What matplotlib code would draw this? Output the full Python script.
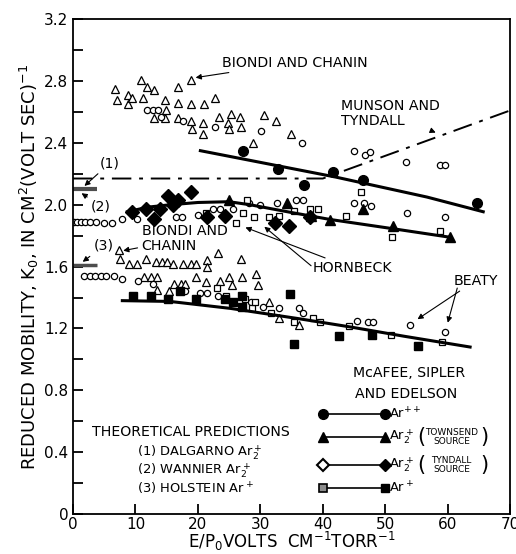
"""
Reduced mobility of argon ions vs E/P0 (replot of scanned figure).
"""

import matplotlib
matplotlib.use('Agg')
import matplotlib.pyplot as plt

# Biondi and Chanin, upper group (open triangles / open circles)
bc_tri_hi_x = [6.7, 7.05, 8.8, 8.8, 9.5, 10.9, 11.2, 11.9, 13.0, 13.0, 14.7, 14.9, 14.7, 16.8, 16.8, 16.8,
               18.9, 18.9, 18.9, 19.1, 21.0, 20.8, 20.8, 22.8, 23.4, 24.8, 25.3, 25.0, 26.8, 26.9, 28.8,
               30.6, 32.5, 34.9]
bc_tri_hi_y = [2.75, 2.68, 2.71, 2.65, 2.69, 2.81, 2.69, 2.76, 2.74, 2.56, 2.68, 2.61, 2.56, 2.76, 2.66, 2.56,
               2.81, 2.65, 2.54, 2.49, 2.65, 2.53, 2.46, 2.69, 2.57, 2.53, 2.59, 2.49, 2.57, 2.50, 2.40,
               2.58, 2.54, 2.46]
circ_hi_x = [11.9, 12.8, 13.6, 14.1, 17.6, 22.8, 30.1, 36.7, 45.0, 46.8, 47.6, 53.4, 58.8, 59.5]
circ_hi_y = [2.61, 2.61, 2.61, 2.57, 2.54, 2.50, 2.48, 2.40, 2.35, 2.32, 2.34, 2.28, 2.26, 2.26]

# middle group
circ_mid_x = [0.2, 0.6, 1.3, 1.9, 2.7, 3.7, 4.9, 6.2, 7.9, 10.3, 16.5, 17.5, 20.0, 22.4, 23.6, 25.6,
              28.2, 30.0, 32.7, 35.7, 36.9, 45.0, 46.6, 47.8, 53.5, 59.6]
circ_mid_y = [1.89, 1.89, 1.89, 1.89, 1.89, 1.89, 1.88, 1.88, 1.91, 1.91, 1.92, 1.92, 1.935, 1.97, 1.97, 1.97,
              2.01, 2.00, 2.01, 2.03, 2.03, 2.01, 2.01, 1.99, 1.95, 1.92]
hb_sq_mid_x = [21.3, 27.9, 27.2, 26.1, 29.0, 31.4, 33.0, 35.4, 38.0, 39.3, 43.8, 46.2, 51.1, 58.8]
hb_sq_mid_y = [1.95, 2.03, 1.95, 1.88, 1.92, 1.92, 1.93, 1.96, 1.97, 1.97, 1.93, 2.08, 1.79, 1.83]

# lower group
bc_tri_lo_x = [7.4, 7.5, 9.0, 10.3, 11.7, 13.3, 14.3, 15.1, 16.0, 17.6, 18.9, 19.7, 21.5, 21.5, 23.2,
               26.9, 11.4, 12.5, 13.5, 13.5, 15.4, 16.2, 17.3, 17.9, 19.7, 21.3, 23.6, 25.0, 25.5,
               27.1, 29.3, 29.6, 31.4, 33.0, 36.2]
bc_tri_lo_y = [1.71, 1.65, 1.62, 1.62, 1.65, 1.63, 1.63, 1.63, 1.62, 1.62, 1.62, 1.62, 1.645, 1.60, 1.685,
               1.65, 1.53, 1.53, 1.53, 1.45, 1.445, 1.49, 1.49, 1.49, 1.535, 1.50, 1.51, 1.535, 1.48,
               1.535, 1.55, 1.48, 1.37, 1.27, 1.22]
circ_lo_x = [1.7, 2.7, 3.6, 4.5, 5.3, 6.5, 7.9, 10.4, 12.8, 17.9, 20.4, 21.5, 23.2, 28.5, 30.4, 33.0,
             36.2, 36.9, 45.5, 47.3, 48.1, 54.0, 59.5]
circ_lo_y = [1.54, 1.54, 1.54, 1.54, 1.54, 1.54, 1.52, 1.51, 1.49, 1.445, 1.43, 1.43, 1.41, 1.37, 1.34, 1.335,
             1.33, 1.30, 1.25, 1.245, 1.24, 1.22, 1.18]
hb_sq_lo_x = [23.1, 24.5, 27.6, 28.7, 29.2, 31.7, 35.4, 38.4, 39.5, 44.2, 51.0, 59.1]
hb_sq_lo_y = [1.46, 1.41, 1.39, 1.33, 1.37, 1.30, 1.245, 1.265, 1.24, 1.215, 1.155, 1.11]

# McAfee, Sipler and Edelson
arpp_x = [27.2, 32.9, 37.0, 41.7, 46.5, 64.7]
arpp_y = [2.35, 2.23, 2.13, 2.21, 2.16, 2.01]
ar2_town_x = [25.0, 34.3, 38.1, 41.2, 46.4, 51.3, 60.3]
ar2_town_y = [2.03, 2.01, 1.93, 1.90, 1.97, 1.86, 1.79]
ar2_tynd_x = [9.4, 11.7, 13.0, 13.9, 15.2, 16.0, 16.8, 18.9, 21.5, 24.4, 32.4, 34.6, 38.0]
ar2_tynd_y = [1.955, 1.97, 1.91, 1.97, 2.06, 2.00, 2.03, 2.08, 1.92, 1.93, 1.88, 1.86, 1.92]
arp_x = [9.6, 12.5, 15.2, 17.1, 19.7, 24.4, 25.6, 27.1, 27.1, 34.8, 35.4, 42.6, 47.9, 55.3]
arp_y = [1.41, 1.41, 1.39, 1.445, 1.39, 1.39, 1.37, 1.41, 1.34, 1.42, 1.10, 1.15, 1.155, 1.085]

# smooth curves drawn through the data
curve_arpp_x = [20.4, 42.0, 56.7, 65.7]
curve_arpp_y = [2.35, 2.18, 2.05, 1.955]
curve_ar2_x = [8.7, 12.0, 15.5, 20.0, 25.0, 28.4, 35.0, 41.2, 51.3, 60.4]
curve_ar2_y = [1.955, 1.985, 2.0, 2.015, 2.02, 2.0, 1.95, 1.905, 1.845, 1.79]
curve_arp_x = [7.9, 15.5, 25.2, 35.9, 44.4, 53.0, 63.6]
curve_arp_y = [1.38, 1.375, 1.33, 1.265, 1.21, 1.15, 1.08]
munson_x = [0, 40, 70]
munson_y = [2.17, 2.17, 2.61]

# theoretical predictions
theory_dalgarno = 2.10
theory_holstein = 1.61

plt.rcParams['font.family'] = 'DejaVu Sans'
fig = plt.figure(figsize=(5.16, 5.54), dpi=100)
ax = fig.add_axes([0.1415, 0.0722, 0.847, 0.893])

k = 'black'
open_kw = dict(linestyle='none', mfc='white', mec=k, mew=0.9)
fill_kw = dict(linestyle='none', color=k)

ax.plot(bc_tri_hi_x, bc_tri_hi_y, '^', ms=5.3, **open_kw)
ax.plot(circ_hi_x, circ_hi_y, 'o', ms=4.5, **open_kw)
ax.plot(circ_mid_x, circ_mid_y, 'o', ms=4.5, **open_kw)
ax.plot(hb_sq_mid_x, hb_sq_mid_y, 's', ms=4.3, **open_kw)
ax.plot(bc_tri_lo_x, bc_tri_lo_y, '^', ms=5.3, **open_kw)
ax.plot(circ_lo_x, circ_lo_y, 'o', ms=4.5, **open_kw)
ax.plot(hb_sq_lo_x, hb_sq_lo_y, 's', ms=4.3, **open_kw)

ax.plot(curve_arpp_x, curve_arpp_y, '-', color=k, lw=2.2)
ax.plot(curve_ar2_x, curve_ar2_y, '-', color=k, lw=2.2)
ax.plot(curve_arp_x, curve_arp_y, '-', color=k, lw=2.2)
ax.plot(munson_x, munson_y, color=k, lw=1.4, dashes=(10, 4, 2, 4))

ax.plot(arpp_x, arpp_y, 'o', ms=7, **fill_kw)
ax.plot(ar2_town_x, ar2_town_y, '^', ms=7.5, **fill_kw)
ax.plot(ar2_tynd_x, ar2_tynd_y, 'D', ms=7, **fill_kw)
ax.plot(arp_x, arp_y, 's', ms=6, **fill_kw)

# theoretical marks at the left axis
ax.plot([0, 3.8], [theory_dalgarno, theory_dalgarno], color='0.3', lw=3, solid_capstyle='butt')
ax.plot([0, 3.8], [theory_holstein, theory_holstein], color='0.3', lw=2.5, solid_capstyle='butt')

arr = dict(arrowstyle='-|>', color=k, lw=0.8, mutation_scale=8, shrinkA=1, shrinkB=2)
fs = 10.2
ctr = dict(fontsize=fs, va='center', arrowprops=arr)
ax.annotate('(1)', xy=(1.5, 2.11), xytext=(4.3, 2.27), **ctr)
ax.annotate('(2)', xy=(1.0, 2.085), xytext=(2.9, 1.99), **ctr)
ax.annotate('(3)', xy=(1.2, 1.62), xytext=(3.3, 1.735), **ctr)
ax.annotate('BIONDI AND CHANIN', xy=(19.2, 2.82), xytext=(23.8, 2.92), **ctr)
ax.annotate('BIONDI AND\nCHANIN', xy=(7.6, 1.70), xytext=(11.0, 1.78), linespacing=1.1, **ctr)
ax.annotate('MUNSON AND\nTYNDALL', xy=(58.5, 2.46), xytext=(43.0, 2.59), linespacing=1.1, **ctr)
ax.annotate('HORNBECK', xy=(27.2, 1.86), xytext=(38.3, 1.59), **ctr)
ax.annotate('', xy=(30.3, 1.87), xytext=(38.3, 1.60), arrowprops=arr)
ax.annotate('BEATY', xy=(54.8, 1.25), xytext=(60.9, 1.51), **ctr)
ax.annotate('', xy=(59.9, 1.22), xytext=(61.6, 1.47), arrowprops=arr)

# key
kfs = 9.4
ax.text(3.0, 0.53, 'THEORETICAL PREDICTIONS', fontsize=fs, va='center')
ax.text(10.3, 0.395, '(1) DALGARNO Ar$_2^+$', fontsize=kfs, va='center')
ax.text(10.3, 0.28, '(2) WANNIER Ar$_2^+$', fontsize=kfs, va='center')
ax.text(10.3, 0.165, '(3) HOLSTEIN Ar$^+$', fontsize=kfs, va='center')

ax.text(44.9, 0.91, 'McAFEE, SIPLER', fontsize=fs, va='center')
ax.text(45.1, 0.775, 'AND EDELSON', fontsize=fs, va='center')
key_rows = [0.65, 0.50, 0.32, 0.17]
ax.plot([40, 50], [key_rows[0]] * 2, '-o', color=k, lw=1.2, ms=7)
ax.plot([40, 50], [key_rows[1]] * 2, '-^', color=k, lw=1.2, ms=7.5)
ax.plot([40, 50], [key_rows[2]] * 2, '-', color=k, lw=1.2)
ax.plot([40], [key_rows[2]], 'D', ms=6.5, mfc='white', mec=k, mew=1.5)
ax.plot([50], [key_rows[2]], 'D', ms=6.5, color=k)
ax.plot([40, 50], [key_rows[3]] * 2, '-', color=k, lw=1.2)
ax.plot([40], [key_rows[3]], 's', ms=6, mfc='0.55', mec=k, mew=1.2)
ax.plot([50], [key_rows[3]], 's', ms=6, color=k)
ax.text(50.6, key_rows[0], 'Ar$^{++}$', fontsize=kfs, va='center')
ax.text(50.6, key_rows[1], 'Ar$_2^+$', fontsize=kfs, va='center')
ax.text(50.6, key_rows[2], 'Ar$_2^+$', fontsize=kfs, va='center')
ax.text(50.6, key_rows[3], 'Ar$^+$', fontsize=kfs, va='center')
for row, word in [(key_rows[1], 'TOWNSEND'), (key_rows[2], 'TYNDALL')]:
    ax.text(55.2, row, '(', fontsize=15, va='center', ha='left')
    ax.text(60.6, row, word + '\nSOURCE', fontsize=6.5, va='center', ha='center', linespacing=1.0)
    ax.text(65.3, row, ')', fontsize=15, va='center', ha='left')

ax.set_xlim(0, 70)
ax.set_ylim(0, 3.2)
ax.set_xticks(range(0, 71, 10))
ax.set_yticks([0, 0.4, 0.8, 1.2, 1.6, 2.0, 2.4, 2.8, 3.2])
ax.set_yticklabels(['0', '0.4', '0.8', '1.2', '1.6', '2.0', '2.4', '2.8', '3.2'])
ax.set_yticks([0.2, 0.6, 1.0, 1.4, 1.8, 2.2, 2.6, 3.0], minor=True)
ax.tick_params(axis='both', which='both', direction='in', length=7, width=1.3, labelsize=11)
ax.tick_params(axis='x', pad=2)
for sp in ax.spines.values():
    sp.set_linewidth(1.3)

ax.set_xlabel('E/P$_0$VOLTS  CM$^{-1}$TORR$^{-1}$', fontsize=12, labelpad=-1)
ax.set_ylabel('REDUCED MOBILITY, K$_0$, IN CM$^2$(VOLT SEC)$^{-1}$', fontsize=13, labelpad=2)

fig.savefig('out.png', dpi=100)
